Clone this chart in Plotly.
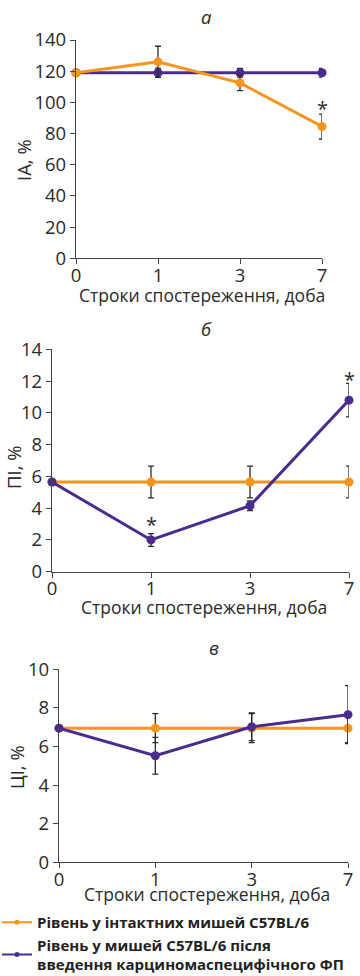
import plotly.graph_objects as go

days = ["0", "1", "3", "7"]
xi = [0, 1, 2, 3]

# Panel а (IA, %)
a_orange = [119, 126, 112.5, 84.5]
a_orange_err = [0, 10, 5, 8]
a_purple = [119, 119, 119, 119]
a_purple_err = [0, 3, 2.8, 2.8]
a_stars = [(3, 96)]

# Panel б (ПІ, %)
b_orange = [5.65, 5.65, 5.65, 5.65]
b_orange_err = [0, 1.0, 1.0, 1.0]
b_purple = [5.65, 2.0, 4.15, 10.8]
b_purple_err = [0, 0.4, 0.3, 1.05]
b_stars = [(1, 3.0), (3, 12.1)]

# Panel в (ЦІ, %)
c_orange = [6.95, 6.95, 6.95, 6.95]
c_orange_err = [0, 0.75, 0.75, 0.75]
c_purple = [6.95, 5.52, 7.02, 7.65]
c_purple_err = [0, 0.95, 0.72, 1.5]

x_title = "Строки спостереження, доба"
y_titles = ["IA, %", "ПІ, %", "ЦІ, %"]
panel_titles = ["а", "б", "в"]
legend_names = ["Рівень у інтактних мишей C57BL/6",
                "Рівень у мишей C57BL/6 після<br>введення карциномаспецифічного ФП"]

ORANGE = "#F7941D"
PURPLE = "#4A2C8F"
ERR = "#2b2b2b"
FONT = "Open Sans"
TXT = "#2a2a2a"

# page body margin is removed in post_script, so page pixels == paper pixels
W = 360.0
H = 976.0

def px(x):
    return x / W

def py(y):
    return 1 - y / H

def ydom(p0, p1):
    return [py(p0), py(p1)]

def xdom(p0, p1):
    return [px(p0), px(p1)]

fig = go.Figure()

def add(xa, ya, yv, err, color):
    fig.add_trace(go.Scatter(
        x=xi, y=yv, xaxis=xa, yaxis=ya, mode="lines+markers",
        line=dict(color=color, width=3),
        marker=dict(color=color, size=9),
        error_y=dict(type="data", array=err, visible=True, color=ERR, thickness=1.3, width=3),
        showlegend=False, cliponaxis=False, hoverinfo="x+y",
    ))

# panel a: purple drawn first, orange on top
add("x", "y", a_purple, a_purple_err, PURPLE)
add("x", "y", a_orange, a_orange_err, ORANGE)
# panel b
add("x2", "y2", b_orange, b_orange_err, ORANGE)
add("x2", "y2", b_purple, b_purple_err, PURPLE)
# panel c
add("x3", "y3", c_orange, c_orange_err, ORANGE)
add("x3", "y3", c_purple, c_purple_err, PURPLE)

# legend entries (thin line, small marker as in the reference legend)
for name, color, rank in [(legend_names[0], ORANGE, 1), (legend_names[1], PURPLE, 2)]:
    fig.add_trace(go.Scatter(
        x=[None], y=[None], xaxis="x3", yaxis="y3", mode="lines+markers",
        line=dict(color=color, width=2), marker=dict(color=color, size=5),
        name=name, showlegend=True, legendrank=rank,
    ))

tickfont = dict(family=FONT, size=18.5, color=TXT)

def xaxis(dom, anchor):
    return dict(domain=dom, anchor=anchor, range=[0, 3], tickvals=xi, ticktext=days,
                showline=True, linecolor="#444", linewidth=1.3, ticks="outside",
                ticklen=5, tickcolor="#444", showgrid=False, zeroline=False,
                tickfont=tickfont, fixedrange=True, automargin=False,
                ticklabelstandoff=-5)

def yaxis(dom, anchor, rng, dt):
    return dict(domain=dom, anchor=anchor, range=rng, dtick=dt, tick0=0,
                showline=True, linecolor="#444", linewidth=1.3, ticks="outside",
                ticklen=5, tickcolor="#444", showgrid=False, zeroline=False,
                tickfont=tickfont, fixedrange=True, automargin=False)

panels = [
    dict(xd=(76, 322), yd=(258.3, 40), rng=[0, 140], dt=20, xt=295, ytx=24, yty=160, pt=(207, 16)),
    dict(xd=(52, 349), yd=(571.7, 349.3), rng=[0, 14], dt=2, xt=607, ytx=14, yty=467, pt=(207, 328)),
    dict(xd=(59, 348), yd=(862.3, 669.3), rng=[0, 10], dt=2, xt=894, ytx=16, yty=767, pt=(214, 647)),
]

lay = {}
for i, p in enumerate(panels):
    s = "" if i == 0 else str(i + 1)
    lay["xaxis" + s] = xaxis(xdom(*p["xd"]), "y" + s)
    lay["yaxis" + s] = yaxis(ydom(*p["yd"]), "x" + s, p["rng"], p["dt"])
    fig.add_annotation(text=x_title, x=px((p["xd"][0] + p["xd"][1]) / 2 + 3), y=py(p["xt"]),
                       xref="paper", yref="paper", showarrow=False, xanchor="center", yanchor="middle",
                       font=dict(family=FONT, size=17.5, color=TXT))
    fig.add_annotation(text=y_titles[i], x=px(p["ytx"]), y=py(p["yty"]), xref="paper", yref="paper",
                       showarrow=False, textangle=-90, xanchor="center", yanchor="middle",
                       font=dict(family=FONT, size=18.5, color=TXT))
    fig.add_annotation(text="<i>" + panel_titles[i] + "</i>", x=px(p["pt"][0]), y=py(p["pt"][1]),
                       xref="paper", yref="paper", showarrow=False, xanchor="center", yanchor="middle",
                       font=dict(family=FONT, size=18.5, color=TXT))

fig.update_layout(
    width=int(W), height=int(H), margin=dict(l=0, r=0, t=0, b=0, autoexpand=False),
    paper_bgcolor="white", plot_bgcolor="white",
    legend=dict(x=px(-3), y=py(906), xanchor="left", yanchor="top",
                font=dict(family=FONT, size=15, color="#222", weight="bold"),
                itemwidth=30, tracegroupgap=2, bgcolor="rgba(0,0,0,0)",
                traceorder="normal"),
    showlegend=True,
    **lay,
)

for (xx, yy) in a_stars:
    fig.add_annotation(text="*", x=xx, y=yy, xref="x", yref="y", showarrow=False,
                       font=dict(family=FONT, size=20, color=TXT), yanchor="middle")
for (xx, yy) in b_stars:
    fig.add_annotation(text="*", x=xx, y=yy, xref="x2", yref="y2", showarrow=False,
                       font=dict(family=FONT, size=20, color=TXT), yanchor="middle")

fig.write_html("out.html", config={"displayModeBar": False},
               post_script="document.body.style.margin='0px';document.body.style.overflow='hidden';")
